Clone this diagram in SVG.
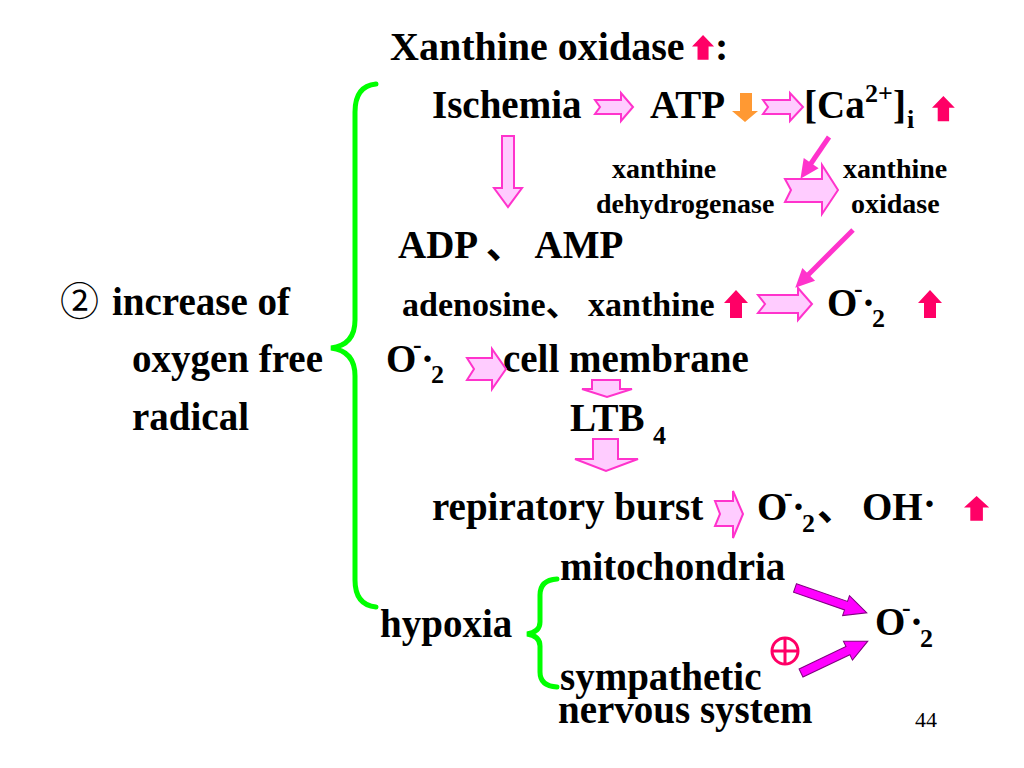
<svg xmlns="http://www.w3.org/2000/svg" width="1024" height="768" viewBox="0 0 1024 768">
<style>
text{font-family:"Liberation Serif","Noto Sans CJK SC",serif;font-weight:bold;fill:#000}
.t{font-size:39px}
.ti{font-size:40px}
.s{font-size:28px}
.m{font-size:34px}
.sb{font-size:26px}
.cjk{font-family:"Noto Sans CJK SC",sans-serif}
.blk{fill:#FFCCFF;stroke:#FF33CC;stroke-width:2;stroke-linejoin:miter}
.up{fill:#FF0066}
.thin{stroke:#FF33CC;stroke-width:5;fill:none}
.mag{fill:#FF00FF;stroke:#800080;stroke-width:1}
.brace{fill:none;stroke:#00FF00;stroke-width:5;stroke-linecap:round}
.pg{font-family:"Liberation Serif",serif;font-weight:normal;font-size:22px}
</style>
<defs>
<marker id="hd" markerUnits="userSpaceOnUse" markerWidth="20" markerHeight="18" refX="1" refY="9" orient="auto" overflow="visible">
<path d="M0,0 L19,9 L0,18 Z" fill="#FF33CC"/>
</marker>
<path id="uparr" d="M12,0 L24,13 L18,13 L18,28 L6,28 L6,13 L0,13 Z"/>
</defs>
<rect width="1024" height="768" fill="#fff"/>

<g id="n-title"><text class="ti" x="390" y="60">Xanthine oxidase</text><use href="#uparr" class="up" transform="translate(692,35) scale(0.92,0.88)"/><text class="ti" x="715" y="60">:</text></g>
<g id="n-ischemia"><text class="t" x="432" y="118">Ischemia</text></g>
<g id="n-atp"><text class="t" x="650" y="118">ATP</text><path d="M740,93 L752,93 L752,111 L758,111 L745,122 L732,111 L740,111 Z" fill="#FF9933"/></g>
<g id="n-ca"><text class="t" x="804" y="118">[Ca<tspan class="sb" x="865" y="102">2+</tspan><tspan x="893" y="118">]</tspan><tspan class="sb" x="907" y="128">i</tspan></text><use href="#uparr" class="up" transform="translate(932,96) scale(0.95,0.9)"/></g>
<g id="n-xdh"><text class="s" x="612" y="178">xanthine</text><text class="s" x="596" y="213">dehydrogenase</text></g>
<g id="n-xo"><text class="s" x="843" y="178">xanthine</text><text class="s" x="851" y="213">oxidase</text></g>
<g id="n-adp"><text class="t" x="398" y="258">ADP <tspan class="cjk">、</tspan> AMP</text></g>
<g id="n-aden"><text class="m" x="402" y="316">adenosine<tspan class="cjk">、</tspan> xanthine</text><use href="#uparr" class="up" transform="translate(724,290)"/></g>
<g id="n-o2a"><text class="t" x="827" y="316">O<tspan class="sb" x="854" y="297">-</tspan><tspan x="862" y="316">·</tspan><tspan class="sb" x="872" y="327">2</tspan></text><use href="#uparr" class="up" transform="translate(918,290)"/></g>
<g id="n-o2b"><text class="t" x="386" y="372">O<tspan class="sb" x="413" y="353">-</tspan><tspan x="421" y="372">·</tspan><tspan class="sb" x="431" y="383">2</tspan></text></g>
<g id="n-cell"><text class="t" x="503" y="372">cell membrane</text></g>
<g id="n-ltb"><text class="t" x="570" y="431">LTB <tspan class="sb" x="653" y="444">4</tspan></text></g>
<g id="n-burst"><text class="t" x="432" y="520">repiratory burst</text></g>
<g id="n-o2c"><text class="t" x="757" y="520">O<tspan class="sb" x="784" y="501">-</tspan><tspan x="792" y="520">·</tspan><tspan class="sb" x="802" y="532">2</tspan><tspan class="cjk" x="817" y="520">、</tspan><tspan x="862" y="520">OH</tspan><tspan x="923" y="517">·</tspan></text><use href="#uparr" class="up" transform="translate(964,496) scale(1.05,0.88)"/></g>
<g id="n-left"><text class="t" x="60" y="315"><tspan class="cjk" font-weight="normal">②</tspan><tspan x="112">increase of</tspan><tspan x="132" y="372">oxygen free</tspan><tspan x="132" y="430">radical</tspan></text></g>
<g id="n-mito"><text class="t" x="560" y="580">mitochondria</text></g>
<g id="n-hypoxia"><text class="t" x="380" y="637">hypoxia</text></g>
<g id="n-symp"><text class="t" x="560" y="690">sympathetic</text><text class="t" x="558" y="723">nervous system</text><g fill="none" stroke="#FF0066" stroke-width="3"><circle cx="785" cy="651" r="13"/><path d="M772,651 H798 M785,638 V664"/></g></g>
<g id="n-o2d"><text class="t" x="875" y="635">O<tspan class="sb" x="902" y="616">-</tspan><tspan x="910" y="635">·</tspan><tspan class="sb" x="920" y="647">2</tspan></text></g>
<g id="n-page"><text class="pg" x="915" y="727">44</text></g>

<g id="braces">
<path class="brace" d="M376,84 Q355,86 355,112 L355,320 Q355,345 331,348 Q355,351 355,376 L355,580 Q355,605 376,607"/>
<path class="brace" d="M557,579 Q540,580 540,595 L540,622 Q540,632 527,634 Q540,636 540,646 L540,672 Q540,686 557,687"/>
</g>

<g id="connectors">
<path class="blk" d="M595,100 L621,100 L621,93 L633,107 L621,121 L621,114 L595,114 L600,107 Z"/>
<path class="blk" d="M763,100 L790,100 L790,93 L803,107 L790,121 L790,114 L763,114 L768,107 Z"/>
<path class="blk" d="M502,136 L514,136 L514,188 L522,188 L508,207 L494,188 L502,188 Z"/>
<line class="thin" x1="829" y1="137" x2="810.6" y2="164" marker-end="url(#hd)"/>
<path class="blk" d="M785,179 L822,179 L822,165 L838,190 L822,214 L822,202 L785,202 L791,190 Z"/>
<line class="thin" x1="853" y1="230" x2="808" y2="275" marker-end="url(#hd)"/>
<path class="blk" d="M758,295 L798,295 L798,288 L812,304 L798,320 L798,313 L758,313 L765,304 Z"/>
<path class="blk" d="M467,358 L492,358 L492,349 L506,369 L492,389 L492,380 L467,380 L474,369 Z"/>
<path class="blk" d="M592,380 L620,380 L620,389 L632,389 L607,397 L582,389 L592,389 Z"/>
<path class="blk" d="M593,439 L618,439 L618,459 L638,459 L606,471 L575,459 L593,459 Z"/>
<path class="blk" d="M715,501 L733,501 L733,491 L743,514 L733,538 L733,526 L715,526 L720,514 Z"/>
<path class="mag" transform="translate(795,588) rotate(19.1)" d="M0,-4.5 L54,-4.5 L54,-10.5 L76,0 L54,10.5 L54,4.5 L0,4.5 Z"/>
<path class="mag" transform="translate(801,673) rotate(-25.5)" d="M0,-4.5 L52,-4.5 L52,-10.5 L74,0 L52,10.5 L52,4.5 L0,4.5 Z"/>
</g>
</svg>
